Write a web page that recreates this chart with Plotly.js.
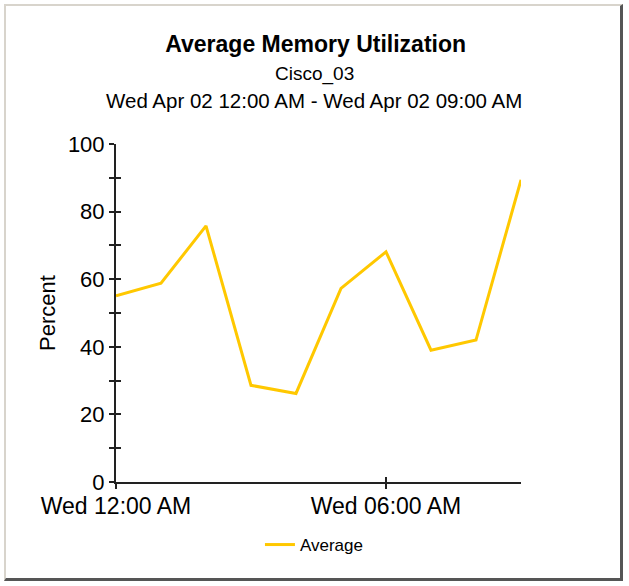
<!DOCTYPE html>
<html>
<head>
<meta charset="utf-8">
<script src="https://cdn.plot.ly/plotly-3.0.1.min.js"></script>
<style>
  html, body { margin: 0; padding: 0; background: #ffffff; }
  #wrap { position: relative; width: 629px; height: 586px; overflow: hidden; background: #fff; }
  #frame { position: absolute; left: 4px; top: 4px; width: 619px; height: 577px;
           border-top: 2px solid #d8d4cc; border-left: 2px solid #d8d4cc;
           border-right: 3px solid #555; border-bottom: 3px solid #555; box-sizing: border-box; pointer-events: none; }
  #chart { position: absolute; left: 0; top: 0; width: 629px; height: 586px; }
</style>
</head>
<body>
<div id="wrap">
  <div id="chart"></div>
  <div id="frame"></div>
</div>
<script>
// Data
const times = [
  "2003-04-02 00:00", "2003-04-02 01:00", "2003-04-02 02:00", "2003-04-02 03:00", "2003-04-02 04:00",
  "2003-04-02 05:00", "2003-04-02 06:00", "2003-04-02 07:00", "2003-04-02 08:00", "2003-04-02 09:00"
];
const averageValues = [55.1, 58.8, 75.8, 28.6, 26.2, 57.3, 68.1, 39.0, 42.0, 89.4];
const seriesName = "Average";
const chartTitle = "Average Memory Utilization";
const subtitle1 = "Cisco_03";
const subtitle2 = "Wed Apr 02 12:00 AM - Wed Apr 02 09:00 AM";
const yTitle = "Percent";
const xRange = ["2003-04-02 00:00", "2003-04-02 09:00"];
const yRange = [0, 100];

const FONT = "Arial, 'Liberation Sans', sans-serif";
const AX = "#222";

// invisible copy on the overlay axes, only so those axes (inner half of the crossing ticks) get drawn
const tickTrace = {
  x: times, y: averageValues, xaxis: "x2", yaxis: "y2",
  type: "scatter", mode: "lines", line: { color: "rgba(0,0,0,0)", width: 0 },
  showlegend: false, hoverinfo: "skip"
};

const trace = {
  x: times,
  y: averageValues,
  type: "scatter",
  mode: "lines",
  name: seriesName,
  line: { color: "#FFC800", width: 3 },
  showlegend: true
};

const layout = {
  width: 629,
  height: 586,
  paper_bgcolor: "#ffffff",
  plot_bgcolor: "#ffffff",
  margin: { l: 116, r: 108, t: 144, b: 104, pad: 0 },
  font: { family: FONT, color: "#000" },
  title: {
    text: "<b>" + chartTitle + "</b>",
    font: { family: FONT, size: 23, color: "#000" },
    x: 0.493, xanchor: "center", xref: "paper",
    y: 1 - 44 / 586, yanchor: "middle", yref: "container"
  },
  annotations: [
    { text: subtitle1, xref: "paper", yref: "paper", x: 0.49, y: (482 - 74) / 338,
      xanchor: "center", yanchor: "middle", showarrow: false, font: { family: FONT, size: 19, color: "#000" } },
    { text: subtitle2, xref: "paper", yref: "paper", x: 0.49, y: (482 - 101) / 338,
      xanchor: "center", yanchor: "middle", showarrow: false, font: { family: FONT, size: 20.5, color: "#000" } }
  ],
  xaxis: {
    type: "date",
    range: xRange,
    tick0: xRange[0],
    dtick: 6 * 3600 * 1000,
    tickformat: "%a %I:%M %p",
    showgrid: false,
    zeroline: false,
    showline: true,
    linecolor: AX,
    linewidth: 2,
    ticks: "outside",
    ticklen: 5,
    tickwidth: 2,
    tickcolor: AX,
    ticklabelstandoff: -3,
    tickfont: { family: FONT, size: 23, color: "#000" }
  },
  yaxis: {
    range: yRange,
    tick0: 0,
    dtick: 20,
    showgrid: false,
    zeroline: false,
    showline: true,
    linecolor: AX,
    linewidth: 2,
    ticks: "outside",
    ticklen: 5,
    tickwidth: 2,
    tickcolor: AX,
    tickfont: { family: FONT, size: 22, color: "#000" },
    minor: { dtick: 10, ticks: "outside", ticklen: 5, tickwidth: 2, tickcolor: AX, showgrid: false },
    title: { text: yTitle, font: { family: FONT, size: 22, color: "#000" }, standoff: 6 }
  },
  xaxis2: {
    type: "date", overlaying: "x", anchor: "y2", side: "bottom",
    range: xRange, tick0: xRange[0], dtick: 6 * 3600 * 1000,
    showticklabels: false, showgrid: false, zeroline: false, showline: false,
    ticks: "inside", ticklen: 5, tickwidth: 2, tickcolor: AX
  },
  yaxis2: {
    overlaying: "y", anchor: "x2", side: "left",
    range: yRange, tick0: 0, dtick: 20,
    showticklabels: false, showgrid: false, zeroline: false, showline: false,
    ticks: "inside", ticklen: 5, tickwidth: 2, tickcolor: AX,
    minor: { dtick: 10, ticks: "inside", ticklen: 5, tickwidth: 2, tickcolor: AX, showgrid: false }
  },
  legend: {
    orientation: "h",
    x: 0.49, xanchor: "center",
    y: (482 - 545) / 338, yanchor: "middle",
    font: { family: FONT, size: 17, color: "#000" },
    bgcolor: "rgba(0,0,0,0)",
    itemwidth: 30
  }
};

Plotly.newPlot("chart", [tickTrace, trace], layout, { displayModeBar: false, staticPlot: true });
</script>
</body>
</html>
